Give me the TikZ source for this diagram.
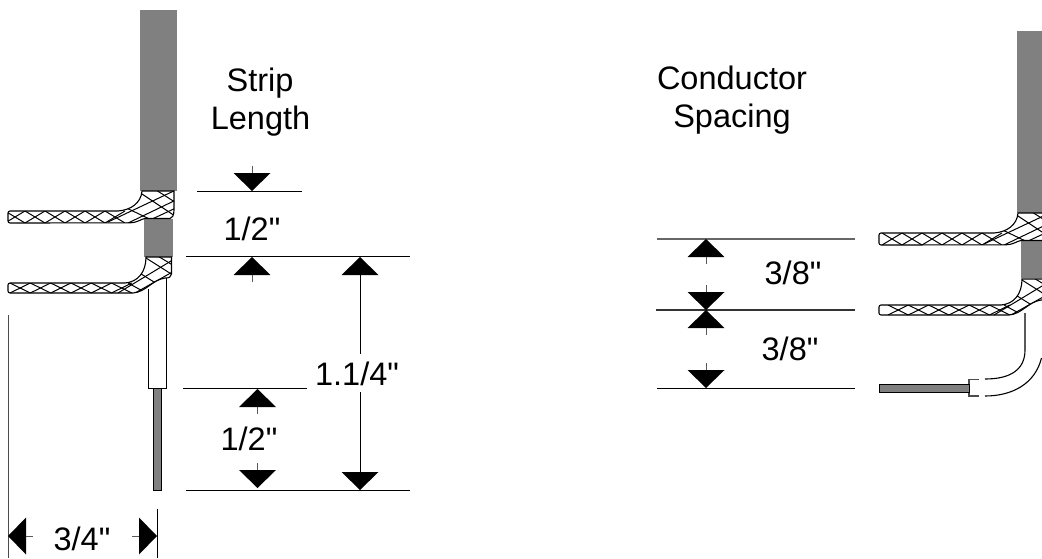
\documentclass[tikz,border=0pt]{standalone}
\usepackage{fontspec}
\newfontfamily\labfont{Liberation Sans}
\definecolor{jacket}{HTML}{808080}
\tikzset{
  dimline/.style={line width=1pt,black},
  stemline/.style={line width=1pt,black!65},
  outline/.style={line width=1.1pt,black},
  weave/.style={line width=1pt,black},
  label/.style={anchor=base,inner sep=0pt,font=\labfont\fontsize{32.5}{36}\selectfont}
}
% arrow: tip x, tip y; direction sign on y (+1 body lies below the tip)
\newcommand\vhead[3]{%
  \fill[black] (#1,#2) -- (#1-18.5,#2+#3*18) -- (#1+18.5,#2+#3*18) -- cycle;
  \draw[stemline] (#1,#2+#3*18) -- (#1,#2+#3*25);}
\newcommand\hhead[3]{%
  \fill[black] (#1,#2) -- (#1+#3*18,#2-18.5) -- (#1+#3*18,#2+18.5) -- cycle;
  \draw[stemline] (#1+#3*18,#2) -- (#1+#3*25,#2);}
% upper braid: left end, first zigzag start
\newcommand\braidupper[2]{%
  \begin{scope}
    \path[clip] (#1,211) -- (118,211)
      .. controls (131,210) and (141,203) .. (142,191) -- (174,191) -- (174,210)
      .. controls (174,216) and (172,218) .. (170,218.5) -- (145,218.5)
      .. controls (141,219) and (138,222.5) .. (130,222.8) -- (#1,223) -- cycle;
    \foreach \k in {0,...,5} {
      \draw[weave] (#2+20*\k,223) -- (#2+20+20*\k,211);
      \draw[weave] (#2+20*\k,211) -- (#2+20+20*\k,223);
    }
    \draw[weave] (108,222) -- (178,189);
    \draw[weave] (126,224) -- (178,199);
    \draw[weave] (150,220) -- (178,207);
    \draw[weave] (116,203) -- (160,224);
    \draw[weave] (136,190) -- (178,218);
    \draw[weave] (156,190) -- (178,204);
  \end{scope}
  \draw[outline,rounded corners=2pt] (#1+10,223) -- (#1,223) -- (#1,211) -- (118,211);
  \draw[outline] (118,211) .. controls (131,210) and (141,203) .. (142,191) -- (174,191) -- (174,210)
      .. controls (174,216) and (172,218) .. (170,218.5) -- (145,218.5)
      .. controls (141,219) and (138,222.5) .. (130,222.8) -- (#1+10,223);}
% lower braid
\newcommand\braidlower[2]{%
  \begin{scope}
    \path[clip] (#1,283) -- (125,283) .. controls (138,282) and (146,272) .. (146,257)
      -- (171.5,257) -- (171.5,274) .. controls (171.5,277) and (169,278) .. (165,278)
      .. controls (152,280) and (146,292) .. (133,293) -- (#1,293) -- cycle;
    \foreach \k in {0,...,5} {
      \draw[weave] (#2+20.3*\k,293) -- (#2+20.3+20.3*\k,283);
      \draw[weave] (#2+20.3*\k,283) -- (#2+20.3+20.3*\k,293);
    }
    \draw[weave] (118,293) -- (176,258);
    \draw[weave] (135,293) -- (176,270);
    \draw[weave] (128,283) -- (150,295);
    \draw[weave] (138,272) -- (170,292);
    \draw[weave] (146,258) -- (176,277);
    \draw[weave] (156,255) -- (176,267);
  \end{scope}
  \draw[outline,rounded corners=2pt] (#1+10,293) -- (#1,293) -- (#1,283) -- (125,283);
  \draw[outline] (125,283) .. controls (138,282) and (146,272) .. (146,257)
      -- (171.5,257) -- (171.5,274) .. controls (171.5,277) and (169,278) .. (165,278)
      .. controls (152,280) and (146,292) .. (133,293) -- (#1+10,293);}
\begin{document}
\begin{tikzpicture}[x=1pt,y=-1pt]
\useasboundingbox (0,0) rectangle (1042,558);
\fill[white] (0,0) rectangle (1042,558);

% ---- left cable
\fill[jacket] (140,9.5) rectangle (177,191);
\fill[jacket] (144,219) rectangle (173,257);
\draw[line width=0.9pt,black] (148.5,289) -- (148.5,388) -- (166,388) -- (166,278);
\draw[line width=0.7pt,black,fill=jacket] (153.5,388) rectangle (161.5,490);
\braidupper{8}{5}
\braidlower{8}{10}

% ---- right cable
\begin{scope}
  \clip (860,0) rectangle (1042,558);
  \fill[jacket] (1017,31) rectangle (1050,213);
  \fill[jacket] (1021,241) rectangle (1050,278);
  \begin{scope}[shift={(876pt,-22pt)}]
    \braidupper{3}{6}
    \braidlower{3}{12}
  \end{scope}
  \draw[outline] (1025,313) -- (1025,350) .. controls (1025,370) and (1010,379) .. (985,379);
  \draw[outline] (1041.5,358) .. controls (1035,384) and (1012,396) .. (985,396);
  \draw[outline,black!70] (979,379.5) -- (969,379.5) -- (969,396) -- (979,396);
\end{scope}
\draw[line width=1pt,black,fill=jacket] (879,384) rectangle (969,392);

% ---- left dimensions
\draw[dimline] (197,191) -- (302,191);
\vhead{252}{191}{-1}
\node[label] (lenA) at (252,240) {1/2"};
\draw[dimline] (186,256.5) -- (410,256.5);
\vhead{252}{257}{1}
\fill[black] (360,257) -- (341.5,275) -- (378.5,275) -- cycle;
\fill[black] (360,490) -- (341.5,472) -- (378.5,472) -- cycle;
\node[label] (total) at (357,385) {1.1/4"};
\draw[dimline] (360,275) -- (360,354);
\draw[dimline] (360,392) -- (360,472);
\draw[dimline] (183,388) -- (307,388);
\vhead{257.5}{389}{1}
\node[label] (lenB) at (249,450) {1/2"};
\vhead{257.5}{488}{-1}
\draw[dimline] (186,490) -- (410,490);
\draw[line width=1pt,black!70] (8,315) -- (8,558);
\draw[dimline] (157,509) -- (157,558);
\hhead{8}{536}{1}
\hhead{157}{536}{-1}
\node[label] (width) at (82,550) {3/4"};

% ---- right dimensions
\draw[line width=1.2pt,black!60] (657,239) -- (855,239);
\draw[line width=1.2pt,black!80] (656,310) -- (855,310);
\draw[dimline] (657,388) -- (855,388);
\vhead{706}{239}{1}
\vhead{706}{310}{-1}
\vhead{706}{310}{1}
\vhead{706}{388}{-1}
\node[label] (gapA) at (793,284) {3/8"};
\node[label] (gapB) at (790,360) {3/8"};

% ---- titles
\node[label] (stripA) at (260,91) {Strip};
\node[label] (stripB) at (260.5,129) {Length};
\node[label] (condA) at (732,89) {Conductor};
\node[label] (condB) at (732,127) {Spacing};
\end{tikzpicture}
\end{document}
